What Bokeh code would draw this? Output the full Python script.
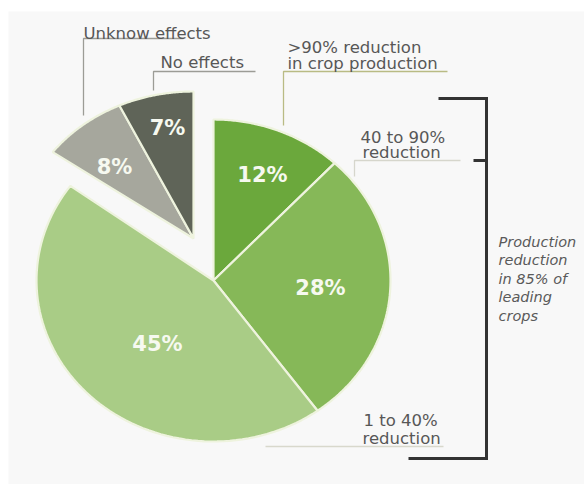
import numpy as np
from bokeh.plotting import figure
from bokeh.models import Range1d
from bokeh.core.properties import value
from bokeh.embed import file_html
from bokeh.resources import INLINE

# ---- data -------------------------------------------------------------
shares = [12, 28, 45, 8, 7]
share_labels = ["12%", "28%", "45%", "8%", "7%"]
slice_names = [">90% reduction in crop production", "40 to 90% reduction",
               "1 to 40% reduction", "Unknow effects", "No effects"]
slice_colors = ["#6ba83c", "#86b858", "#a9cc86", "#a6a79d", "#5f6458"]
pulled_out = [False, False, False, True, True]

# ---- layout constants (pixels, y grows downward) ---------------------
W, H = 584, 484
CX, CY = 213, 280           # centre of the green part of the pie
RX, RY = 177, 161           # outer radii of the green slices
PULL_DX, PULL_DY = -20, -42  # offset of the pulled-out grey slices
GRX, GRY = 174, 147         # outer radii of the grey slices

label_pos = [(262, 174), (320, 287), (157, 343), (114, 166), (167, 127)]

p = figure(width=W, height=H, x_range=Range1d(0, W), y_range=Range1d(H, 0),
           x_axis_type=None, y_axis_type=None, toolbar_location=None,
           output_backend="svg", min_border=0)
p.grid.visible = False
p.outline_line_color = None
p.background_fill_color = "white"
p.border_fill_color = "white"

# light panel behind the chart
p.quad(left=[8], right=[W], top=[11], bottom=[H], fill_color="#f8f8f8",
       line_color=None)

# ---- pie slices built from the shares ---------------------------------
total = float(sum(shares))
cum = np.concatenate([[0.0], np.cumsum(shares)]) / total
xs, ys = [], []
for i in range(len(shares)):
    a0, a1 = 2 * np.pi * cum[i], 2 * np.pi * cum[i + 1]
    t = np.linspace(a0, a1, 80)
    if pulled_out[i]:
        cx, cy, rx, ry = CX + PULL_DX, CY + PULL_DY, GRX, GRY
    else:
        cx, cy, rx, ry = CX, CY, RX, RY
    px = np.concatenate([[cx], cx + rx * np.sin(t), [cx]])
    py = np.concatenate([[cy], cy - ry * np.cos(t), [cy]])
    xs.append(px.tolist())
    ys.append(py.tolist())

p.patches(xs, ys, fill_color=slice_colors, line_color="#eef3de",
          line_width=2.2)

# percentage labels inside slices
p.text([q[0] for q in label_pos], [q[1] for q in label_pos], text=share_labels,
       text_font=value("DejaVu Sans"), text_font_size="21px",
       text_font_style="bold", text_color="#f6f9f0", text_align="center",
       text_baseline="middle")

# ---- leader lines -----------------------------------------------------
leaders = [
    ([83, 83, 183], [115, 38, 38], "#9c9c96"),
    ([153, 153, 255], [90, 71, 71], "#9c9c96"),
    ([283, 283, 447], [125, 71, 71], "#b9bb84"),
    ([354, 354, 460], [176, 160, 160], "#d6d6cc"),
    ([265, 443], [446, 446], "#d8d8cc"),
]
for lx, ly, lc in leaders:
    p.line(lx, ly, line_color=lc, line_width=1.3)

# category labels
cat_text = ["Unknow effects", "No effects", ">90% reduction",
            "in crop production", "40 to 90%", "reduction", "1 to 40%",
            "reduction"]
cat_x = [83, 160, 287, 287, 360, 362, 363, 362]
cat_y = [33, 62, 47, 63, 137, 152, 420, 438]
p.text(cat_x, cat_y, text=cat_text, text_font=value("DejaVu Sans"),
       text_font_size="16.5px", text_color="#575757", text_align="left",
       text_baseline="alphabetic")

# ---- bracket grouping the reduction categories -------------------------
p.line([438, 486, 486, 408], [98, 98, 458, 458], line_color="#333333",
       line_width=3, line_join="miter")
p.line([473, 486], [160, 160], line_color="#333333", line_width=3)

note_lines = ["Production", "reduction", "in 85% of", "leading", "crops"]
note_y = [241, 259.5, 278, 296.5, 315]
p.text([498] * len(note_lines), note_y, text=note_lines,
       text_font=value("DejaVu Sans"), text_font_size="14.5px",
       text_font_style="italic", text_color="#5a5a5a", text_align="left",
       text_baseline="alphabetic")

open("out.html", "w").write(file_html(p, INLINE))
